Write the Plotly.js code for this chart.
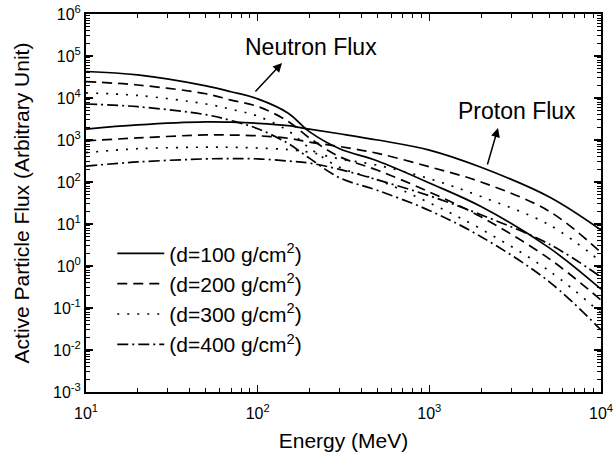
<!DOCTYPE html>
<html>
<head>
<meta charset="utf-8">
<script src="https://cdn.plot.ly/plotly-3.0.1.min.js"></script>
<style>html,body{margin:0;padding:0;background:#fff;}#chart{width:615px;height:466px;}</style>
</head>
<body>
<div id="chart"></div>
<script>
// Energy grid (MeV)
const energy = [10, 20, 50, 70, 100, 150, 200, 300, 500, 1000, 2000, 5000, 10000];

// Neutron flux (arbitrary unit) for each shielding depth
const neutron100 = [42700, 35500, 19500, 14100, 9550, 4400, 1580, 620, 316, 95, 26, 2.7, 0.28];
const neutron200 = [24500, 20400, 12600, 8900, 6300, 2800, 1120, 400, 190, 58, 14.8, 1.48, 0.155];
const neutron300 = [13200, 11500, 7200, 5400, 3700, 1660, 650, 224, 112, 32, 7.6, 0.76, 0.076];
const neutron400 = [7200, 6200, 4000, 2900, 1860, 830, 370, 126, 63, 21, 5.0, 0.42, 0.030];

// Proton flux (arbitrary unit) for each shielding depth
const proton100 = [1820, 2290, 2700, 2650, 2500, 2190, 1820, 1410, 1000, 575, 224, 44, 7.2];
const proton200 = [955, 1120, 1320, 1310, 1260, 1100, 890, 700, 480, 230, 100, 20, 2.1];
const proton300 = [500, 620, 675, 670, 645, 590, 513, 355, 250, 120, 45, 9.5, 1.26];
const proton400 = [240, 300, 355, 360, 355, 316, 282, 200, 112, 47, 16.6, 3.3, 0.55];

const depthLabels = ['(d=100 g/cm<sup>2</sup>)', '(d=200 g/cm<sup>2</sup>)', '(d=300 g/cm<sup>2</sup>)', '(d=400 g/cm<sup>2</sup>)'];
const yTickVals = [1e-3, 1e-2, 1e-1, 1e0, 1e1, 1e2, 1e3, 1e4, 1e5, 1e6];
const yTickText = ['10<sup>-3</sup>', '10<sup>-2</sup>', '10<sup>-1</sup>', '10<sup>0</sup>', '10<sup>1</sup>', '10<sup>2</sup>', '10<sup>3</sup>', '10<sup>4</sup>', '10<sup>5</sup>', '10<sup>6</sup>'];
const xTickVals = [10, 100, 1000, 10000];
const xTickText = ['10<sup>1</sup>', '10<sup>2</sup>', '10<sup>3</sup>', '10<sup>4</sup>'];

function minorVals(lo, hi) {
  const v = [];
  for (let p = lo; p < hi; p++) for (let m = 2; m <= 9; m++) v.push(m * Math.pow(10, p));
  return v;
}

const dashes = ['solid', '10px,6px', '2px,8px', '11px,4px,2px,4px'];
const FONT = 'Arial, "Liberation Sans", sans-serif';

const protonSets = [proton100, proton200, proton300, proton400];
const neutronSets = [neutron100, neutron200, neutron300, neutron400];

const traces = [];
protonSets.forEach((ys, i) => {
  traces.push({
    x: energy, y: ys, type: 'scatter', mode: 'lines',
    name: depthLabels[i], legendgroup: 'g' + i, showlegend: true,
    line: {color: '#000', width: 1.7, dash: dashes[i], shape: 'spline', smoothing: 1}
  });
});
neutronSets.forEach((ys, i) => {
  traces.push({
    x: energy, y: ys, type: 'scatter', mode: 'lines',
    name: depthLabels[i], legendgroup: 'g' + i, showlegend: false,
    line: {color: '#000', width: 1.7, dash: dashes[i], shape: 'spline', smoothing: 1}
  });
});

const layout = {
  width: 615, height: 466,
  margin: {l: 86, r: 14, t: 14, b: 74},
  paper_bgcolor: '#fff', plot_bgcolor: '#fff',
  font: {family: FONT, color: '#000', size: 16},
  showlegend: true,
  legend: {
    x: 0.051, y: 0.42, xanchor: 'left', yanchor: 'top',
    bgcolor: 'rgba(0,0,0,0)', borderwidth: 0, itemwidth: 47,
    font: {family: FONT, size: 21, color: '#000'},
    tracegroupgap: 0
  },
  xaxis: {
    type: 'log', range: [1, 4],
    tickmode: 'array', tickvals: xTickVals, ticktext: xTickText,
    ticks: 'inside', ticklen: 7, tickwidth: 1.5, tickcolor: '#000',
    ticklabelstandoff: 6,
    showline: true, linewidth: 2, linecolor: '#000', mirror: 'allticks',
    showgrid: false, zeroline: false,
    tickfont: {family: FONT, size: 16, color: '#000'},
    minor: {tickmode: 'array', tickvals: minorVals(1, 4), ticks: 'inside', ticklen: 4, tickwidth: 1, tickcolor: '#000', showgrid: false},
    title: {text: 'Energy (MeV)', font: {family: FONT, size: 21, color: '#000'}, standoff: 12}
  },
  yaxis: {
    type: 'log', range: [-3, 6],
    tickmode: 'array', tickvals: yTickVals, ticktext: yTickText,
    ticks: 'inside', ticklen: 7, tickwidth: 1.5, tickcolor: '#000',
    showline: true, linewidth: 2, linecolor: '#000', mirror: 'allticks',
    showgrid: false, zeroline: false,
    tickfont: {family: FONT, size: 16, color: '#000'},
    minor: {tickmode: 'array', tickvals: minorVals(-3, 6), ticks: 'inside', ticklen: 4, tickwidth: 1, tickcolor: '#000', showgrid: false},
    title: {text: 'Active Particle Flux (Arbitrary Unit)', font: {family: FONT, size: 21, color: '#000'}, standoff: 18}
  },
  annotations: [
    {xref: 'paper', yref: 'paper', x: 0.437, y: 0.913, text: 'Neutron Flux', showarrow: false,
     font: {family: FONT, size: 23, color: '#000'}, xanchor: 'center', yanchor: 'middle'},
    {xref: 'paper', yref: 'paper', x: 0.837, y: 0.743, text: 'Proton Flux', showarrow: false,
     font: {family: FONT, size: 23, color: '#000'}, xanchor: 'center', yanchor: 'middle'},
    {xref: 'paper', yref: 'paper', x: 0.3806, y: 0.8704, text: '', showarrow: true,
     ax: -28, ay: 30, arrowhead: 2, arrowsize: 1.2, arrowwidth: 1.5, arrowcolor: '#000'},
    {xref: 'paper', yref: 'paper', x: 0.800, y: 0.6984, text: '', showarrow: true,
     ax: -11, ay: 38, arrowhead: 2, arrowsize: 1.2, arrowwidth: 1.5, arrowcolor: '#000'}
  ]
};

Plotly.newPlot('chart', traces, layout, {displayModeBar: false, staticPlot: true});
</script>
</body>
</html>
